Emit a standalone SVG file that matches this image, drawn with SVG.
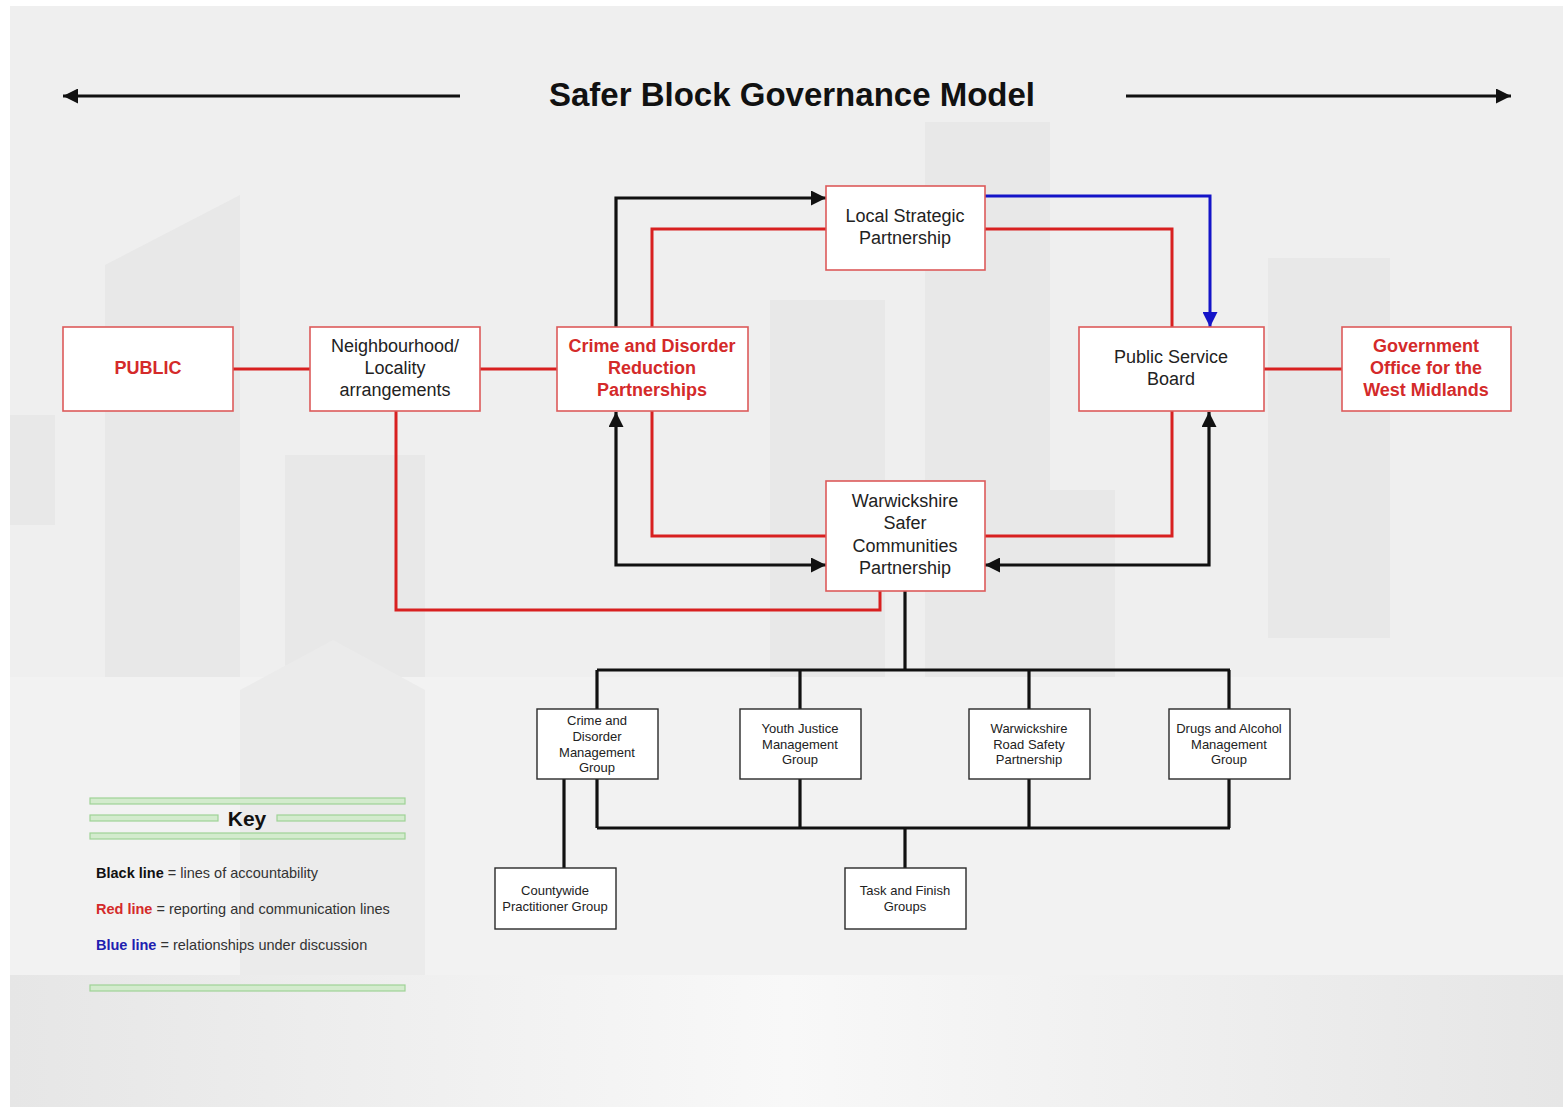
<svg xmlns="http://www.w3.org/2000/svg" width="1563" height="1107" viewBox="0 0 1563 1107">
  <style>
    .bg-shape { fill: #e8e8e8; }
    .rbox { fill: #ffffff; stroke: #dc5a5a; stroke-width: 1.6; }
    .kbox { fill: #ffffff; stroke: #2a2a2a; stroke-width: 1.4; }
    .t { font-family: "Liberation Sans", Arial, sans-serif; fill: #222222; text-anchor: middle; }
    .big { font-size: 18px; }
    .rb { font-size: 18px; font-weight: bold; fill: #d42a2a; }
    .sm { font-size: 13px; }
    .red { fill: none; stroke: #d82020; stroke-width: 3; }
    .blk { fill: none; stroke: #111111; stroke-width: 3.2; }
    .blu { fill: none; stroke: #1414c8; stroke-width: 3; }
    .key { font-family: "Liberation Sans", Arial, sans-serif; font-size: 14.5px; fill: #333333; }
    .band { fill: #d3ebcd; stroke: #9fd396; stroke-width: 1.2; }
  </style>
  <defs>
    <marker id="ah" viewBox="0 0 10 10" refX="10" refY="5" markerWidth="18" markerHeight="15" markerUnits="userSpaceOnUse" orient="auto-start-reverse">
      <path d="M0,0 L10,5 L0,10 z" fill="#111111"/>
    </marker>
    <marker id="ahb" viewBox="0 0 10 10" refX="10" refY="5" markerWidth="18" markerHeight="15" markerUnits="userSpaceOnUse" orient="auto">
      <path d="M0,0 L10,5 L0,10 z" fill="#1414c8"/>
    </marker>
    <linearGradient id="floor" x1="0" y1="0" x2="1" y2="0">
      <stop offset="0" stop-color="#e6e6e6"/>
      <stop offset="0.5" stop-color="#f8f8f8"/>
      <stop offset="1" stop-color="#e6e6e6"/>
    </linearGradient>
  </defs>

  <!-- background -->
  <rect x="0" y="0" width="1563" height="1107" fill="#ffffff"/>
  <rect x="10" y="6" width="1553" height="1101" fill="#efefef"/>
  <g id="cityscape">
    <rect class="bg-shape" x="10" y="415" width="45" height="110"/>
    <path class="bg-shape" d="M105,265 L240,195 L240,677 L105,677 z"/>
    <rect class="bg-shape" x="285" y="455" width="140" height="222"/>
    <rect class="bg-shape" x="770" y="300" width="115" height="377"/>
    <rect class="bg-shape" x="925" y="122" width="125" height="555"/>
    <rect class="bg-shape" x="1268" y="258" width="122" height="380"/>
    <rect class="bg-shape" x="1050" y="490" width="65" height="187"/>
    <rect x="10" y="677" width="1553" height="298" fill="#f2f2f2"/>
    <path d="M240,690 L333,640 L425,690 L425,975 L240,975 z" fill="#ebebeb"/>
    <rect x="10" y="975" width="1553" height="132" fill="url(#floor)"/>
  </g>

  <!-- title -->
  <g id="title">
    <text x="792" y="106" font-family="Liberation Sans, Arial, sans-serif" font-size="33" font-weight="bold" fill="#111111" text-anchor="middle">Safer Block Governance Model</text>
    <line class="blk" x1="460" y1="96" x2="63" y2="96" marker-end="url(#ah)"/>
    <line class="blk" x1="1126" y1="96" x2="1511" y2="96" marker-end="url(#ah)"/>
  </g>

  <!-- connectors -->
  <g id="connectors">
    <line class="red" x1="233" y1="369" x2="310" y2="369"/>
    <line class="red" x1="480" y1="369" x2="557" y2="369"/>
    <line class="red" x1="1264" y1="369" x2="1342" y2="369"/>
    <path class="red" d="M652,327 V229 H826"/>
    <path class="red" d="M985,229 H1172 V327"/>
    <path class="red" d="M652,411 V536 H826"/>
    <path class="red" d="M985,536 H1172 V411"/>
    <path class="red" d="M396,411 V610 H880 V591"/>
    <path class="blk" d="M616,327 V198 H826" marker-end="url(#ah)"/>
    <path class="blk" d="M616,412 V565 H826" marker-start="url(#ah)" marker-end="url(#ah)"/>
    <path class="blk" d="M1209,412 V565 H985" marker-start="url(#ah)" marker-end="url(#ah)"/>
    <path class="blu" d="M985,196 H1210 V327" marker-end="url(#ahb)"/>
    <line class="blk" x1="905" y1="591" x2="905" y2="670"/>
    <line class="blk" x1="597" y1="670" x2="1230" y2="670"/>
    <line class="blk" x1="597" y1="670" x2="597" y2="709"/>
    <line class="blk" x1="800" y1="670" x2="800" y2="709"/>
    <line class="blk" x1="1029" y1="670" x2="1029" y2="709"/>
    <line class="blk" x1="1229" y1="670" x2="1229" y2="709"/>
    <line class="blk" x1="597" y1="779" x2="597" y2="828"/>
    <line class="blk" x1="800" y1="779" x2="800" y2="828"/>
    <line class="blk" x1="1029" y1="779" x2="1029" y2="828"/>
    <line class="blk" x1="1229" y1="779" x2="1229" y2="828"/>
    <line class="blk" x1="597" y1="828" x2="1230" y2="828"/>
    <line class="blk" x1="905" y1="828" x2="905" y2="868"/>
    <line class="blk" x1="564" y1="779" x2="564" y2="868"/>
  </g>

  <!-- main nodes -->
  <g id="lsp">
    <rect class="rbox" x="826" y="186" width="159" height="84"/>
    <text class="t big" x="905" y="222">Local Strategic</text>
    <text class="t big" x="905" y="244">Partnership</text>
  </g>
  <g id="public">
    <rect class="rbox" x="63" y="327" width="170" height="84"/>
    <text class="t rb" x="148" y="374">PUBLIC</text>
  </g>
  <g id="neighbourhood">
    <rect class="rbox" x="310" y="327" width="170" height="84"/>
    <text class="t big" x="395" y="352">Neighbourhood/</text>
    <text class="t big" x="395" y="374">Locality</text>
    <text class="t big" x="395" y="396">arrangements</text>
  </g>
  <g id="cdrp">
    <rect class="rbox" x="557" y="327" width="191" height="84"/>
    <text class="t rb" x="652" y="352">Crime and Disorder</text>
    <text class="t rb" x="652" y="374">Reduction</text>
    <text class="t rb" x="652" y="396">Partnerships</text>
  </g>
  <g id="psb">
    <rect class="rbox" x="1079" y="327" width="185" height="84"/>
    <text class="t big" x="1171" y="363">Public Service</text>
    <text class="t big" x="1171" y="385">Board</text>
  </g>
  <g id="gowm">
    <rect class="rbox" x="1342" y="327" width="169" height="84"/>
    <text class="t rb" x="1426" y="352">Government</text>
    <text class="t rb" x="1426" y="374">Office for the</text>
    <text class="t rb" x="1426" y="396">West Midlands</text>
  </g>
  <g id="wscp">
    <rect class="rbox" x="826" y="481" width="159" height="110"/>
    <text class="t big" x="905" y="507">Warwickshire</text>
    <text class="t big" x="905" y="529">Safer</text>
    <text class="t big" x="905" y="552">Communities</text>
    <text class="t big" x="905" y="574">Partnership</text>
  </g>

  <!-- sub groups -->
  <g id="cdmg">
    <rect class="kbox" x="537" y="709" width="121" height="70"/>
    <text class="t sm" x="597" y="724.5">Crime and</text>
    <text class="t sm" x="597" y="740.5">Disorder</text>
    <text class="t sm" x="597" y="756.5">Management</text>
    <text class="t sm" x="597" y="771.5">Group</text>
  </g>
  <g id="yjmg">
    <rect class="kbox" x="740" y="709" width="121" height="70"/>
    <text class="t sm" x="800" y="732.5">Youth Justice</text>
    <text class="t sm" x="800" y="748.5">Management</text>
    <text class="t sm" x="800" y="763.5">Group</text>
  </g>
  <g id="wrsp">
    <rect class="kbox" x="969" y="709" width="121" height="70"/>
    <text class="t sm" x="1029" y="732.5">Warwickshire</text>
    <text class="t sm" x="1029" y="748.5">Road Safety</text>
    <text class="t sm" x="1029" y="763.5">Partnership</text>
  </g>
  <g id="damg">
    <rect class="kbox" x="1169" y="709" width="121" height="70"/>
    <text class="t sm" x="1229" y="732.5">Drugs and Alcohol</text>
    <text class="t sm" x="1229" y="748.5">Management</text>
    <text class="t sm" x="1229" y="763.5">Group</text>
  </g>
  <g id="cpg">
    <rect class="kbox" x="495" y="868" width="121" height="61"/>
    <text class="t sm" x="555" y="894.5">Countywide</text>
    <text class="t sm" x="555" y="910.5">Practitioner Group</text>
  </g>
  <g id="tfg">
    <rect class="kbox" x="845" y="868" width="121" height="61"/>
    <text class="t sm" x="905" y="894.5">Task and Finish</text>
    <text class="t sm" x="905" y="910.5">Groups</text>
  </g>

  <!-- key -->
  <g id="key">
    <rect class="band" x="90" y="798" width="315" height="6"/>
    <rect class="band" x="90" y="815" width="128" height="6"/>
    <rect class="band" x="277" y="815" width="128" height="6"/>
    <rect class="band" x="90" y="833" width="315" height="6"/>
    <rect class="band" x="90" y="985" width="315" height="6"/>
    <text x="247" y="826" font-family="Liberation Sans, Arial, sans-serif" font-size="21" font-weight="bold" fill="#111111" text-anchor="middle">Key</text>
    <text class="key" x="96" y="878"><tspan font-weight="bold" fill="#111111">Black line</tspan> = lines of accountability</text>
    <text class="key" x="96" y="914"><tspan font-weight="bold" fill="#d42a2a">Red line</tspan> = reporting and communication lines</text>
    <text class="key" x="96" y="950"><tspan font-weight="bold" fill="#2020b0">Blue line</tspan> = relationships under discussion</text>
  </g>
</svg>
